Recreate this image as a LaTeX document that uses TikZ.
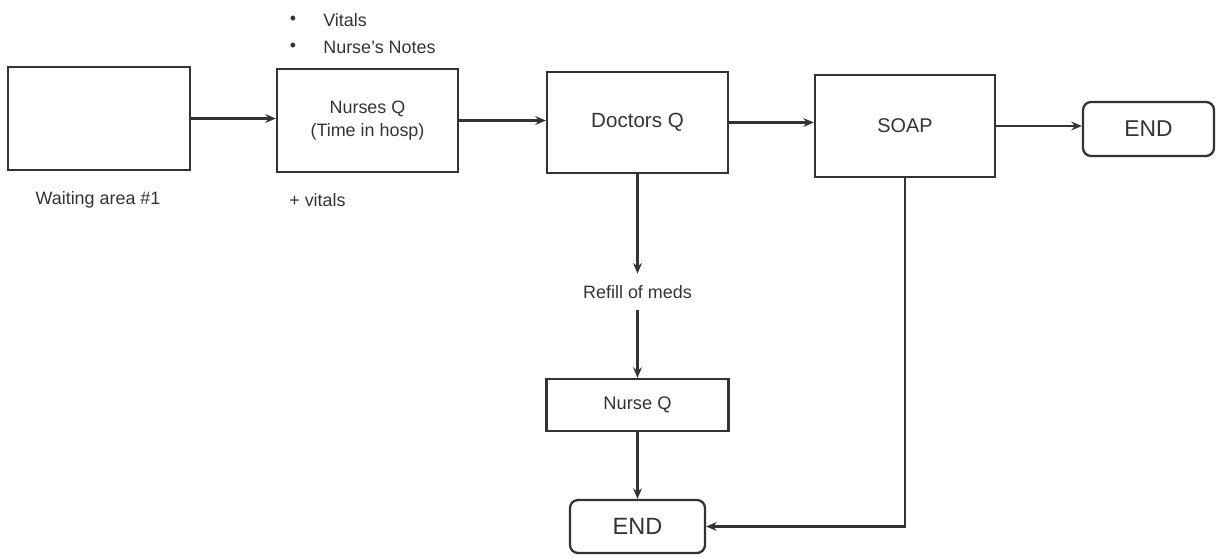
\documentclass[tikz,border=0pt]{standalone}
\usepackage{fontspec}
\setmainfont{Liberation Sans}
\usetikzlibrary{arrows.meta}
\definecolor{ink}{HTML}{333333}
\begin{document}
\begin{tikzpicture}[x=0.02cm,y=-0.02cm,
  box/.style={draw=ink,line width=1.3pt,inner sep=0pt,align=center,text=ink,font=\fontsize{10.2pt}{13.5pt}\selectfont},
  endbox/.style={box,rounded corners=0.16cm,font=\fontsize{13pt}{15pt}\selectfont},
  lbl/.style={text=ink,font=\fontsize{10.2pt}{12pt}\selectfont,inner sep=0pt},
  conn/.style={draw=ink,line width=1.4pt,-{Stealth[length=6pt,width=5pt]}}]
\useasboundingbox (0,0) rectangle (1217,558);
\node[box,minimum width=3.64cm,minimum height=2.06cm] (wait) at (99,118.5) {};
\node[box,minimum width=3.62cm,minimum height=2.06cm] (nurses) at (367.5,120.5) {Nurses Q\\(Time in hosp)};
\node[box,minimum width=3.62cm,minimum height=2.02cm,font=\fontsize{11.7pt}{14pt}\selectfont] (doctors) at (637.5,122.5) {Doctors Q};
\node[box,minimum width=3.6cm,minimum height=2.04cm,font=\fontsize{11.3pt}{14pt}\selectfont] (soap) at (905,126) {SOAP};
\node[endbox,minimum width=2.62cm,minimum height=1.08cm] (end1) at (1148.5,129) {END};
\node[box,minimum width=3.64cm,minimum height=1.04cm,font=\fontsize{10.4pt}{12pt}\selectfont] (nurseq) at (637.5,405) {Nurse Q};
\node[endbox,minimum width=2.7cm,minimum height=1.06cm,font=\fontsize{13.4pt}{15pt}\selectfont] (end2) at (637.5,526.5) {END};
\node[lbl,inner sep=6.5pt] (refill) at (637.5,292) {Refill of meds};
\node[lbl] (waitlbl) at (98,200) {Waiting area \#1};
\node[lbl,anchor=west] (plusv) at (289,200) {+ vitals};
\node[lbl] (b1) at (293,20) {•};
\node[lbl,anchor=west] (t1) at (323,20) {Vitals};
\node[lbl] (b2) at (293,47) {•};
\node[lbl,anchor=west] (t2) at (323,47) {Nurse’s Notes};
\draw[conn] (wait.east) -- (wait.east -| nurses.west);
\draw[conn] (nurses.east) -- (nurses.east -| doctors.west);
\draw[conn] (doctors.east) -- (doctors.east -| soap.west);
\draw[conn] (soap.east) -- (soap.east -| end1.west);
\draw[conn] (doctors.south) -- (refill.north);
\draw[conn] (refill.south) -- (nurseq.north);
\draw[conn] (nurseq.south) -- (end2.north);
\draw[conn] (soap.south) |- (end2.east);
\end{tikzpicture}
\end{document}
